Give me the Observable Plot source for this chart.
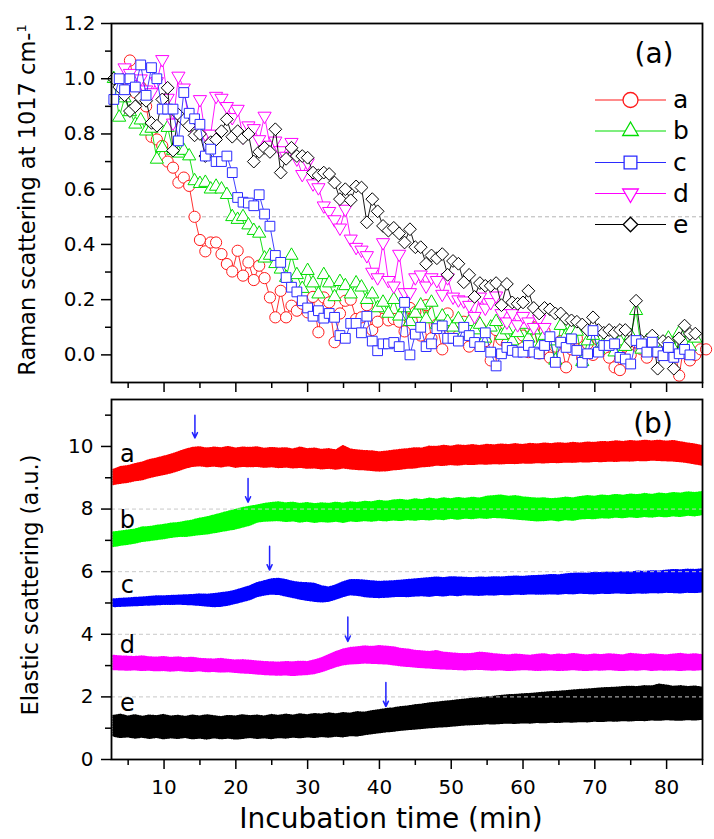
<!DOCTYPE html>
<html><head><meta charset="utf-8">
<script src="https://cdn.jsdelivr.net/npm/d3@7"></script>
<script src="https://cdn.jsdelivr.net/npm/@observablehq/plot@0.6"></script>
<style>
body{margin:0;background:#fff;}
#chart{position:relative;width:714px;height:839px;overflow:hidden;background:#fff;}
#chart svg{position:absolute;left:0;overflow:visible;}
</style></head><body><div id="chart"></div>
<script>
// ---------- Panel (a): Raman scattering at 1017 cm-1 ----------
const seriesNames = ["a","b","c","d","e"];
const STEP = 0.75; // sampling interval (min)
const ramanStart = [4.5, 3.0, 3.0, 4.5, 3.0];
const ramanA = [
 1.00,1.066,0.95,0.97,0.90,0.79,0.78,0.757,0.70,0.678,
 0.624,0.642,0.612,0.50,0.416,0.375,0.407,0.407,0.365,0.329,
 0.302,0.377,0.287,0.335,0.271,0.323,0.278,0.208,0.136,0.232,
 0.136,0.178,0.16,0.185,0.154,0.21,0.082,0.208,0.19,0.046,
 0.15,0.196,0.2,0.13,0.136,0.18,0.09,0.12,0.17,0.125,
 0.13,0.12,0.085,0.17,0.155,0.07,0.18,0.06,0.11,0.02,
 0.15,0.09,0.07,0.12,0.03,0.13,0.10,0.05,-0.02,0.09,
 0.055,0.04,0.02,0.06,0.07,0.01,0.10,0.005,0.085,-0.01,
 0.03,0.05,-0.045,0.02,0.06,-0.01,0.04,0.0,0.055,0.02,
 -0.01,-0.045,-0.055,0.03,0.0,0.045,0.02,-0.01,0.05,0.01,
 0.03,0.0,0.04,-0.075,0.05,-0.02,0.0,0.02,0.02];
const ramanB = [
 1.0,0.86,0.93,0.88,0.835,0.85,0.81,0.82,0.708,0.75,
 0.823,0.74,0.73,0.74,0.72,0.63,0.62,0.624,0.60,0.61,
 0.60,0.58,0.50,0.49,0.50,0.47,0.45,0.44,0.35,0.36,
 0.33,0.31,0.28,0.36,0.29,0.24,0.305,0.26,0.22,0.29,
 0.26,0.21,0.265,0.25,0.22,0.26,0.245,0.20,0.22,0.17,
 0.19,0.15,0.20,0.14,0.17,0.12,0.15,0.18,0.13,0.19,
 0.11,0.14,0.12,0.10,0.13,0.08,0.12,0.09,0.11,0.06,
 0.10,0.12,0.07,0.09,0.05,0.08,0.11,0.06,0.09,0.03,
 0.07,0.05,-0.02,0.106,0.07,0.09,0.085,-0.025,0.05,0.07,
 0.02,0.04,0.06,0.01,0.05,0.03,0.07,0.16,0.02,0.05,
 0.01,0.04,0.03,0.06,0.02,0.08,0.04,0.03,0.06];
const ramanC = [
 0.925,1.0,0.96,1.0,0.97,1.05,0.94,1.04,1.0,0.89,
 0.89,0.89,0.775,0.95,0.875,0.855,0.835,0.72,0.745,0.70,
 0.70,0.72,0.66,0.57,0.553,0.55,0.54,0.58,0.51,0.466,
 0.36,0.335,0.28,0.245,0.228,0.196,0.17,0.14,0.16,0.133,
 0.15,0.136,0.07,0.06,0.114,0.114,0.08,0.14,0.05,0.015,
 0.04,0.04,0.045,0.03,0.19,0.0,0.075,0.1,0.03,0.04,
 0.095,0.105,0.06,0.06,0.05,0.10,0.07,0.045,0.03,0.08,
 0.01,-0.04,0.004,0.027,0.016,0.01,0.01,0.034,0.01,0.004,
 0.034,0.066,-0.027,0.046,0.027,0.058,0.016,-0.027,0.004,0.088,
 0.01,0.034,0.034,0.04,-0.009,-0.015,-0.033,0.052,0.04,0.01,
 0.046,0.01,-0.003,0.027,-0.009,0.004,0.02,0.0];
const ramanD = [
 1.04,1.02,0.98,1.0,0.96,0.95,0.99,1.07,0.93,0.84,
 1.01,0.967,0.84,0.81,0.925,0.80,0.80,0.937,0.93,0.90,
 0.86,0.89,0.79,0.83,0.82,0.78,0.865,0.76,0.775,0.74,
 0.72,0.77,0.71,0.654,0.696,0.62,0.606,0.54,0.52,0.49,
 0.46,0.528,0.42,0.39,0.38,0.36,0.30,0.28,0.407,0.27,
 0.25,0.365,0.226,0.226,0.28,0.29,0.25,0.28,0.27,0.22,
 0.28,0.21,0.2,0.196,0.18,0.14,0.21,0.17,0.19,0.214,
 0.15,0.12,0.15,0.11,0.14,0.12,0.10,0.13,0.10];
const ramanE = [
 1.0,0.97,0.94,0.883,0.90,0.93,0.92,0.84,0.83,0.925,
 0.967,0.74,0.87,0.85,0.83,0.795,0.80,0.72,0.77,0.78,
 0.81,0.853,0.79,0.81,0.785,0.80,0.70,0.735,0.75,0.735,
 0.817,0.66,0.71,0.75,0.72,0.72,0.714,0.66,0.65,0.66,
 0.655,0.624,0.564,0.60,0.56,0.61,0.606,0.48,0.564,0.52,
 0.467,0.45,0.46,0.44,0.407,0.455,0.39,0.39,0.33,0.36,
 0.35,0.365,0.29,0.34,0.33,0.263,0.29,0.21,0.26,0.25,
 0.25,0.26,0.18,0.257,0.19,0.185,0.19,0.232,0.17,0.15,
 0.17,0.165,0.15,0.15,0.13,0.125,0.12,0.11,0.09,0.136,
 0.09,0.08,0.09,0.08,0.09,0.09,0.05,0.196,0.05,0.05,
 0.07,-0.05,0.05,0.045,-0.05,0.06,0.106,0.076,0.077];
const ramanSeries = [ramanA, ramanB, ramanC, ramanD, ramanE];
const colorsA = ["#ff1a1a","#00dd00","#2b2bff","#ff00ff","#000000"];
const yTicksA = [0.0,0.2,0.4,0.6,0.8,1.0,1.2];
const yMinorA = [0.1,0.3,0.5,0.7,0.9,1.1];
const xTicks = [10,20,30,40,50,60,70,80];
const xMinor = [5,15,25,35,45,55,65,75,85];
const halfLevel = [0.5];

// ---------- Panel (b): Elastic scattering, noise envelopes per minute (t = 3..85) ----------
const tB = [3,4,5,6,7,8,9,10,11,12,13,14,15,16,17,18,19,20,21,22,23,24,25,26,27,28,29,30,31,32,33,34,35,36,37,38,39,40,41,42,43,44,45,46,47,48,49,50,51,52,53,54,55,56,57,58,59,60,61,62,63,64,65,66,67,68,69,70,71,72,73,74,75,76,77,78,79,80,81,82,83,84,85];
const hiA = [9.24,9.33,9.36,9.42,9.47,9.55,9.60,9.66,9.72,9.80,
 9.88,9.94,9.96,9.92,9.95,9.93,9.97,9.92,9.95,9.94,
 9.96,9.91,9.94,9.92,9.93,9.89,9.95,9.90,9.92,9.88,
 9.90,9.86,10.0,9.89,9.86,9.84,9.83,9.80,9.82,9.85,
 9.88,9.90,9.93,9.92,9.98,9.97,10.01,9.98,10.02,10.0,
 10.03,10.0,10.04,10.02,10.05,10.03,10.06,10.03,10.07,10.05,
 10.08,10.06,10.09,10.07,10.1,10.08,10.11,10.1,10.13,10.12,
 10.15,10.13,10.16,10.14,10.17,10.15,10.17,10.14,10.16,10.12,
 10.08,10.05,10.0];
const loA = [8.78,8.82,8.85,8.90,8.93,9.00,9.05,9.10,9.15,9.22,
 9.30,9.36,9.38,9.35,9.37,9.34,9.38,9.33,9.36,9.35,
 9.36,9.33,9.35,9.32,9.34,9.31,9.33,9.30,9.31,9.28,
 9.30,9.27,9.31,9.28,9.26,9.25,9.23,9.21,9.22,9.25,
 9.27,9.30,9.31,9.35,9.36,9.40,9.39,9.42,9.40,9.43,
 9.42,9.44,9.43,9.45,9.44,9.46,9.45,9.47,9.46,9.48,
 9.47,9.49,9.48,9.50,9.49,9.51,9.50,9.52,9.51,9.53,
 9.52,9.54,9.53,9.55,9.54,9.56,9.55,9.54,9.53,9.51,
 9.48,9.44,9.40];
const hiB = [7.24,7.27,7.30,7.33,7.40,7.41,7.45,7.48,7.52,7.54,
 7.58,7.62,7.68,7.72,7.78,7.84,7.90,7.96,8.02,8.06,
 8.10,8.15,8.18,8.20,8.17,8.19,8.15,8.18,8.14,8.17,
 8.15,8.19,8.16,8.20,8.18,8.22,8.20,8.25,8.22,8.26,
 8.28,8.25,8.30,8.27,8.32,8.29,8.33,8.30,8.34,8.31,
 8.35,8.32,8.38,8.40,8.42,8.38,8.40,8.36,8.34,8.32,
 8.33,8.30,8.32,8.35,8.33,8.37,8.40,8.38,8.42,8.40,
 8.44,8.41,8.45,8.43,8.47,8.44,8.48,8.46,8.50,8.48,
 8.52,8.50,8.53];
const loB = [6.80,6.84,6.87,6.91,6.96,6.99,7.02,7.05,7.09,7.12,
 7.12,7.15,7.18,7.20,7.24,7.28,7.32,7.36,7.42,7.48,
 7.58,7.61,7.62,7.63,7.60,7.62,7.58,7.61,7.57,7.60,
 7.58,7.61,7.57,7.62,7.60,7.63,7.61,7.64,7.62,7.65,
 7.63,7.66,7.64,7.67,7.65,7.68,7.66,7.70,7.67,7.71,
 7.69,7.72,7.70,7.73,7.72,7.70,7.68,7.66,7.64,7.62,
 7.63,7.65,7.62,7.66,7.64,7.68,7.70,7.69,7.72,7.71,
 7.74,7.72,7.75,7.73,7.76,7.74,7.77,7.75,7.78,7.76,
 7.80,7.78,7.82];
const hiC = [5.10,5.12,5.13,5.15,5.16,5.18,5.20,5.20,5.21,5.22,
 5.23,5.24,5.26,5.25,5.27,5.30,5.33,5.38,5.45,5.52,
 5.62,5.68,5.74,5.76,5.72,5.66,5.63,5.62,5.60,5.52,
 5.48,5.55,5.65,5.72,5.72,5.70,5.68,5.66,5.67,5.68,
 5.70,5.72,5.74,5.76,5.78,5.80,5.78,5.81,5.80,5.79,
 5.78,5.80,5.79,5.81,5.80,5.82,5.83,5.82,5.84,5.85,
 5.86,5.88,5.87,5.90,5.92,5.93,5.92,5.95,5.94,5.96,
 5.95,5.97,5.96,5.99,5.98,6.00,5.99,6.02,6.04,6.03,
 6.05,6.04,6.06];
const loC = [4.88,4.89,4.90,4.91,4.92,4.93,4.94,4.95,4.95,4.96,
 4.95,4.94,4.92,4.90,4.88,4.89,4.93,4.98,5.04,5.10,
 5.20,5.25,5.28,5.27,5.22,5.17,5.12,5.08,5.05,5.03,
 5.05,5.12,5.20,5.26,5.24,5.20,5.18,5.17,5.18,5.20,
 5.21,5.20,5.22,5.23,5.21,5.24,5.22,5.25,5.23,5.26,
 5.25,5.24,5.26,5.25,5.27,5.26,5.28,5.27,5.29,5.28,
 5.28,5.29,5.28,5.30,5.29,5.31,5.30,5.29,5.31,5.30,
 5.32,5.31,5.30,5.32,5.31,5.33,5.32,5.34,5.33,5.32,
 5.34,5.33,5.35];
const hiD = [3.30,3.28,3.27,3.26,3.28,3.25,3.24,3.26,3.23,3.25,
 3.22,3.24,3.20,3.19,3.18,3.20,3.17,3.15,3.16,3.14,
 3.12,3.10,3.09,3.08,3.10,3.09,3.11,3.10,3.15,3.22,
 3.32,3.42,3.50,3.55,3.57,3.60,3.58,3.61,3.59,3.57,
 3.52,3.50,3.46,3.44,3.42,3.45,3.40,3.38,3.36,3.35,
 3.36,3.40,3.38,3.35,3.33,3.31,3.34,3.32,3.30,3.33,
 3.35,3.31,3.34,3.32,3.36,3.33,3.31,3.34,3.32,3.35,
 3.33,3.31,3.36,3.34,3.32,3.35,3.33,3.31,3.34,3.36,
 3.33,3.35,3.32];
const loD = [2.87,2.86,2.85,2.86,2.84,2.85,2.83,2.84,2.82,2.84,
 2.82,2.81,2.83,2.80,2.81,2.79,2.80,2.78,2.76,2.75,
 2.73,2.71,2.70,2.69,2.70,2.68,2.70,2.71,2.74,2.80,
 2.88,2.96,3.02,3.05,3.06,3.08,3.07,3.06,3.05,3.02,
 2.99,2.97,2.95,2.93,2.92,2.90,2.89,2.88,2.87,2.86,
 2.87,2.88,2.86,2.85,2.86,2.84,2.85,2.87,2.86,2.84,
 2.85,2.86,2.84,2.85,2.87,2.85,2.84,2.86,2.85,2.87,
 2.85,2.84,2.86,2.85,2.87,2.84,2.86,2.85,2.86,2.84,
 2.86,2.85,2.87];
const hiE = [1.38,1.42,1.36,1.40,1.35,1.39,1.37,1.41,1.36,1.38,
 1.35,1.39,1.36,1.40,1.37,1.34,1.38,1.36,1.40,1.37,
 1.39,1.36,1.41,1.38,1.42,1.39,1.43,1.40,1.44,1.42,
 1.46,1.43,1.47,1.45,1.50,1.48,1.53,1.56,1.60,1.62,
 1.66,1.68,1.72,1.74,1.78,1.80,1.83,1.85,1.88,1.90,
 1.93,1.95,1.97,1.99,2.02,2.04,2.05,2.07,2.08,2.10,
 2.12,2.14,2.15,2.17,2.19,2.21,2.22,2.24,2.26,2.27,
 2.28,2.30,2.31,2.30,2.33,2.32,2.38,2.35,2.31,2.33,
 2.30,2.32,2.28];
const loE = [0.74,0.70,0.72,0.68,0.71,0.67,0.70,0.66,0.69,0.67,
 0.70,0.66,0.68,0.65,0.69,0.66,0.68,0.65,0.67,0.70,
 0.67,0.69,0.66,0.70,0.68,0.71,0.69,0.72,0.70,0.73,
 0.71,0.74,0.72,0.76,0.75,0.79,0.82,0.85,0.88,0.90,
 0.93,0.95,0.97,0.99,1.01,1.03,1.04,1.06,1.08,1.10,
 1.11,1.12,1.14,1.13,1.15,1.16,1.15,1.17,1.16,1.18,
 1.17,1.19,1.18,1.20,1.19,1.21,1.20,1.22,1.21,1.23,
 1.22,1.24,1.23,1.25,1.24,1.26,1.25,1.27,1.26,1.25,
 1.27,1.26,1.28];
const hiAll = [hiA, hiB, hiC, hiD, hiE];
const loAll = [loA, loB, loC, loD, loE];
const colorsB = ["#ff0000","#00ff00","#0000ff","#ff00ff","#000000"];
const arrowT = [14.3, 21.7, 24.7, 35.6, 40.9];
const arrowTop = [11.0, 8.98, 6.81, 4.55, 2.46];
const arrowBot = [10.27, 8.22, 6.05, 3.77, 1.69];
const traceLabelT = [4.9, 4.9, 4.9, 4.9, 4.9];
const traceLabelV = [9.74, 7.65, 5.57, 3.65, 1.78];
const yTicksB = [0,2,4,6,8,10];
const yMinorB = [1,3,5,7,9,11];
const dashLevelsB = [2,4,6,8];

// ---------- symbols ----------
const symDiamond = {draw(ctx, size){const h=Math.sqrt(size/2);ctx.moveTo(0,-h);ctx.lineTo(h,0);ctx.lineTo(0,h);ctx.lineTo(-h,0);ctx.closePath();}};
const symTriDown = {draw(ctx, size){const y=-Math.sqrt(size/(Math.sqrt(3)*3));ctx.moveTo(0,-y*2);ctx.lineTo(-Math.sqrt(3)*y,y);ctx.lineTo(Math.sqrt(3)*y,y);ctx.closePath();}};
const symbols = [d3.symbolCircle, d3.symbolTriangle, d3.symbolSquare, symTriDown, symDiamond];
const radii = [5.6, 4.9, 5.5, 4.9, 5.1];
const legendRadii = [7.5, 5.8, 7.2, 5.8, 5.8];

const FONT = "'DejaVu Sans', Verdana, sans-serif";
const root = d3.select("#chart");

// ---------- build panel (a) ----------
const drawOrder = [0,1,3,4,2];
const marksA = [Plot.ruleY(halfLevel, {stroke:"#b4b4b4", strokeDasharray:"4,3", strokeWidth:1})];
for (const k of drawOrder) {
  const rows = ramanSeries[k].map((v,i)=>({t: ramanStart[k] + STEP*i, v}));
  marksA.push(Plot.line(rows, {x:"t", y:"v", stroke:colorsA[k], strokeWidth:0.9}));
  marksA.push(Plot.dot(rows, {x:"t", y:"v", symbol:symbols[k], r:radii[k], stroke:colorsA[k], fill:"white", strokeWidth:1}));
}
marksA.push(
  Plot.axisY({ticks:yTicksA, tickSize:10, tickPadding:6, strokeWidth:1.5, tickFormat:d=>d.toFixed(1), fontSize:20, label:null}),
  Plot.axisY({ticks:yMinorA, tickSize:6, strokeWidth:1.5, tickFormat:()=>"", label:null}),
  Plot.axisX({ticks:xTicks, tickSize:10, strokeWidth:1.5, tickFormat:()=>"", label:null}),
  Plot.axisX({ticks:xMinor, tickSize:6, strokeWidth:1.5, tickFormat:()=>"", label:null}),
  Plot.frame({strokeWidth:1.8})
);
const plotA = Plot.plot({
  width:714, height:395, marginLeft:111, marginRight:12, marginTop:23, marginBottom:13,
  x:{domain:[2.68,85], label:null}, y:{domain:[-0.1,1.2], label:null},
  style:{fontFamily:FONT, background:"transparent", color:"black", overflow:"visible"},
  marks: marksA
});
plotA.style.top = "0px";
root.node().appendChild(plotA);

// ---------- build panel (b) ----------
const marksB = [];
for (let k=0;k<5;k++){
  const rows = tB.map((t,i)=>({t, lo:loAll[k][i], hi:hiAll[k][i]}));
  marksB.push(Plot.areaY(rows, {x:"t", y1:"lo", y2:"hi", fill:colorsB[k], curve:"linear",
    stroke:colorsB[k], strokeWidth:2, strokeDasharray:"1,1.5"}));
}
marksB.push(Plot.ruleY(dashLevelsB, {stroke:"#c8c8c8", strokeDasharray:"4,3", strokeWidth:1}));
const arrowRows = arrowT.map((t,i)=>({t, top:arrowTop[i], bot:arrowBot[i]}));
marksB.push(Plot.arrow(arrowRows, {x1:"t", x2:"t", y1:"top", y2:"bot", stroke:"#2222ff", strokeWidth:1.5, headLength:6, headAngle:50}));
const labelRows = seriesNames.map((n,i)=>({n, t:traceLabelT[i], v:traceLabelV[i]}));
marksB.push(Plot.text(labelRows, {x:"t", y:"v", text:"n", fontSize:24, fill:"black", textAnchor:"middle", lineAnchor:"middle"}));
marksB.push(
  Plot.axisY({ticks:yTicksB, tickSize:10, tickPadding:8, strokeWidth:1.5, fontSize:20, label:null}),
  Plot.axisY({ticks:yMinorB, tickSize:6, strokeWidth:1.5, tickFormat:()=>"", label:null}),
  Plot.axisX({ticks:xTicks, tickSize:10, tickPadding:10, strokeWidth:1.5, fontSize:20, label:null}),
  Plot.axisX({ticks:xMinor, tickSize:6, strokeWidth:1.5, tickFormat:()=>"", label:null}),
  Plot.frame({strokeWidth:1.8})
);
const plotB = Plot.plot({
  width:714, height:459, marginLeft:111, marginRight:12, marginTop:19, marginBottom:80,
  x:{domain:[2.68,85], label:null}, y:{domain:[0,11.5], label:null},
  style:{fontFamily:FONT, background:"transparent", color:"black", overflow:"visible"},
  marks: marksB
});
plotB.style.top = "380px";
root.node().appendChild(plotB);

// ---------- overlay: titles, panel tags, legend ----------
const ov = root.append("svg").attr("width",714).attr("height",839).style("top","0px")
  .style("pointer-events","none").attr("font-family", FONT);
const tA = ov.append("text").attr("transform","translate(35,200) rotate(-90)").attr("text-anchor","middle")
  .attr("font-size",22.5).attr("fill","black");
tA.append("tspan").text("Raman scattering at 1017 cm-");
tA.append("tspan").attr("font-size",13).attr("dy",-9).text("1");
ov.append("text").attr("transform","translate(38,585) rotate(-90)").attr("text-anchor","middle")
  .attr("font-size",22.5).attr("fill","black").text("Elastic scattering (a.u.)");
ov.append("text").attr("x",391).attr("y",828).attr("text-anchor","middle").attr("font-size",28)
  .attr("fill","black").text("Incubation time (min)");
ov.append("text").attr("x",654).attr("y",63).attr("text-anchor","middle").attr("font-size",28).text("(a)");
ov.append("text").attr("x",653).attr("y",433).attr("text-anchor","middle").attr("font-size",28).text("(b)");
const legendY = [100,131,162.5,193.5,224.5];
seriesNames.forEach((n,i)=>{
  const g = ov.append("g");
  g.append("line").attr("x1",595).attr("x2",666).attr("y1",legendY[i]).attr("y2",legendY[i])
    .attr("stroke",colorsA[i]).attr("stroke-width",1.2);
  g.append("path").attr("d", d3.symbol(symbols[i], Math.PI*legendRadii[i]*legendRadii[i])())
    .attr("transform",`translate(630.5,${legendY[i]})`).attr("fill","white").attr("stroke",colorsA[i]).attr("stroke-width",1.3);
  g.append("text").attr("x",673).attr("y",legendY[i]+8).attr("font-size",25).attr("fill","black").text(n);
});
</script></body></html>
